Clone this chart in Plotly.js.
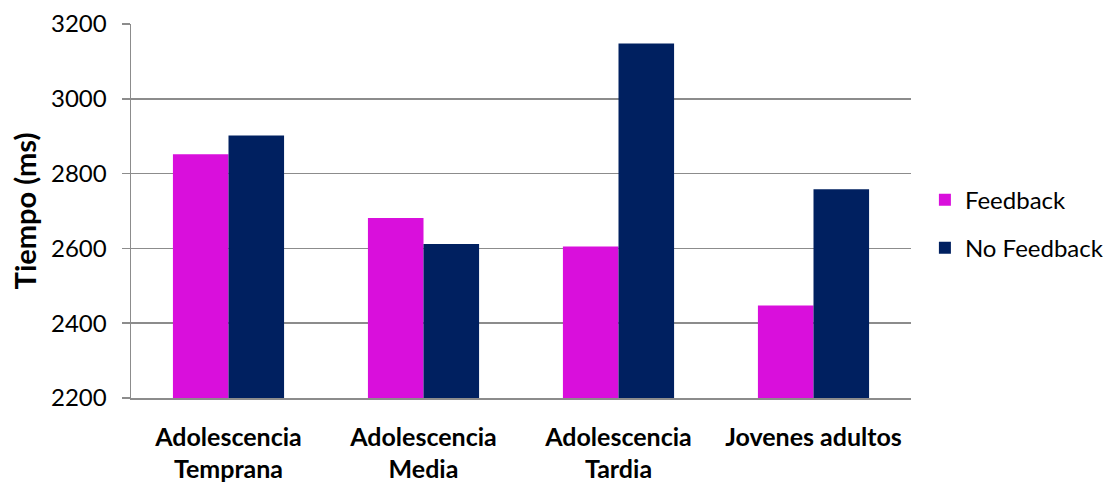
<!DOCTYPE html>
<html>
<head>
<meta charset="utf-8">
<script src="https://cdn.plot.ly/plotly-3.0.1.min.js"></script>
<style>
  html, body { margin: 0; padding: 0; background: #ffffff; }
  #chart { width: 1109px; height: 485px; }
</style>
</head>
<body>
<div id="chart"></div>
<script>
// Age groups and mean response time (ms) per condition
const categories = [
  "Adolescencia<br>Temprana",
  "Adolescencia<br>Media",
  "Adolescencia<br>Tardia",
  "Jovenes adultos"
];
const feedback = [2852, 2681, 2605, 2447];
const noFeedback = [2902, 2612, 3148, 2758];
const yTicks = [2200, 2400, 2600, 2800, 3000, 3200];

const FONT = "Lato, 'Open Sans', 'DejaVu Sans', sans-serif";
const gridColor = "#8c8c8c";

const traces = [
  {
    type: "bar",
    name: "Feedback",
    x: categories,
    y: feedback,
    marker: { color: "#d90fdc" },
    legendgroup: "a"
  },
  {
    type: "bar",
    name: "No Feedback",
    x: categories,
    y: noFeedback,
    marker: { color: "#002060" },
    legendgroup: "b"
  }
];

const layout = {
  width: 1109,
  height: 485,
  margin: { l: 131, r: 198, t: 24, b: 87 },
  paper_bgcolor: "#ffffff",
  plot_bgcolor: "#ffffff",
  barmode: "group",
  bargap: 0.43,
  bargroupgap: 0,
  font: { family: FONT, size: 22, color: "#000000" },
  xaxis: {
    type: "category",
    showline: true,
    linecolor: gridColor,
    linewidth: 1.5,
    showgrid: false,
    ticks: "",
    tickfont: { family: FONT, size: 25, color: "#000000", weight: "bold" },
    ticklabelstandoff: 16
  },
  yaxis: {
    range: [2200, 3200],
    tickvals: yTicks,
    ticktext: yTicks.map(String),
    showline: true,
    linecolor: gridColor,
    linewidth: 1.5,
    showgrid: true,
    gridcolor: gridColor,
    gridwidth: 1.5,
    zeroline: false,
    ticks: "outside",
    ticklen: 8,
    tickcolor: gridColor,
    tickwidth: 1.5,
    tickfont: { family: FONT, size: 24, color: "#000000" },
    ticklabelstandoff: 10,
    title: {
      text: "Tiempo (ms)",
      font: { family: FONT, size: 29, color: "#000000", weight: "bold" },
      standoff: 6
    }
  },
  legend: {
    xref: "container",
    yref: "container",
    x: 0.834,
    xanchor: "left",
    y: 0.538,
    yanchor: "middle",
    font: { family: FONT, size: 24, color: "#000000" },
    tracegroupgap: 14,
    bgcolor: "rgba(0,0,0,0)"
  },
  showlegend: true
};

Plotly.newPlot("chart", traces, layout, { staticPlot: true, displayModeBar: false });
</script>
</body>
</html>
